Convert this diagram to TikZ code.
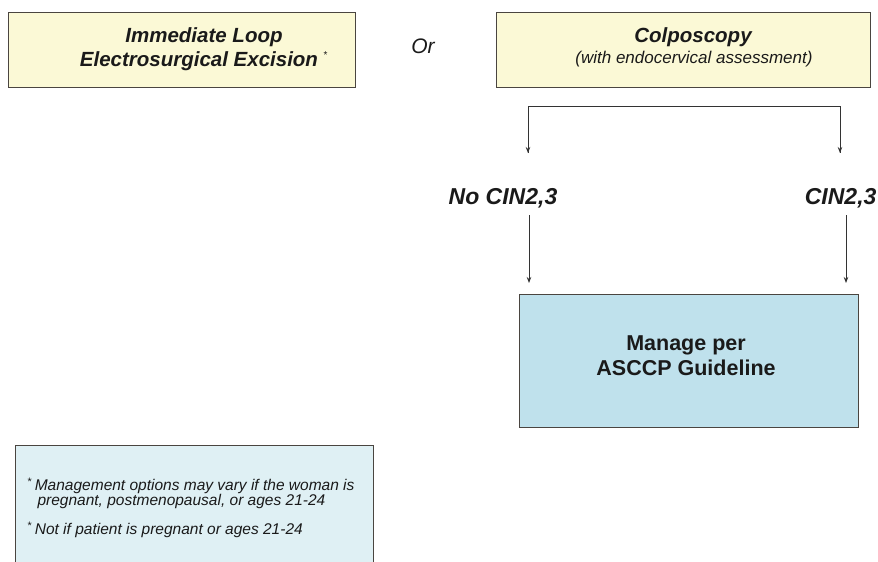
\documentclass[tikz,border=0pt]{standalone}
\usepackage{fontspec}
\setmainfont{Liberation Sans}
\usetikzlibrary{arrows.meta}
\definecolor{yfill}{HTML}{FBF9D6}
\definecolor{bfill}{HTML}{BFE1EC}
\definecolor{nfill}{HTML}{DFF0F4}
\definecolor{edge}{HTML}{4A4540}
\definecolor{txt}{HTML}{1A1A1A}
\tikzset{
  ybox/.style={draw=edge, line width=1.4pt, fill=yfill},
  bbox/.style={draw=edge, line width=1.4pt, fill=bfill},
  nbox/.style={draw=edge, line width=1.4pt, fill=nfill},
  conn/.style={draw=black!80, line width=0.8pt},
  arr/.style={conn, -{Stealth[length=6pt,width=4.5pt]}},
  lbl/.style={font=\fontsize{20.5}{23.5}\selectfont\bfseries\itshape, text=txt, align=center},
  big/.style={font=\fontsize{23}{26}\selectfont\bfseries\itshape, text=txt},
  note/.style={font=\fontsize{15.5}{15}\selectfont\itshape, text=txt, align=left, anchor=north west},
}
\begin{document}
\begin{tikzpicture}[x=1pt,y=-1pt]
\fill[white] (0,0) rectangle (878,562);
\useasboundingbox (0,0) rectangle (878,562);
\begin{scope}
\clip (0,0) rectangle (878,562);
% top boxes
\node[ybox, minimum width=347pt, minimum height=75pt, anchor=north west] (leep) at (8,12) {};
\node[lbl] (leeptxt) at (204,49) {Immediate Loop\\Electrosurgical Excision \textsuperscript{\normalfont\fontsize{10}{10}\selectfont *}};
\node[font=\fontsize{21}{24}\selectfont\itshape, text=txt] (or) at (423,46) {Or};
\node[ybox, minimum width=374pt, minimum height=75pt, anchor=north west] (colpo) at (496,12) {};
\node[lbl] (colpotxt) at (693,37) {Colposcopy};
\node[font=\fontsize{17}{20}\selectfont\itshape, text=txt] (colposub) at (694,59) {(with endocervical assessment)};
% outcome labels
\node[big] (nocin) at (503,198) {No CIN2,3};
\node[big, anchor=east] (cin) at (880,198) {CIN2,3};
% manage box
\node[bbox, minimum width=339pt, minimum height=133pt, anchor=north west] (manage) at (519,294) {};
\node[font=\fontsize{21.5}{25}\selectfont\bfseries, text=txt, align=center] (managetxt) at (686,356) {Manage per\\ASCCP Guideline};
% footnote box
\node[nbox, minimum width=358pt, minimum height=140pt, anchor=north west] (note) at (15,445) {};
\node[note] (n1) at (24,474)
  {\textsuperscript{\normalfont *}\,Management options may vary if the woman is\\\hspace{10pt}pregnant, postmenopausal, or ages 21-24};
\node[note] (n2) at (24,518)
  {\textsuperscript{\normalfont *}\,Not if patient is pregnant or ages 21-24};
% connectors
\coordinate (tl) at (528,106);
\coordinate (tr) at (840,106);
\coordinate (al) at (528,153);
\coordinate (ar) at (840,153);
\draw[conn] (al) -- (tl) -- (tr) -- (ar);
\draw[arr] (tl) -- (al);
\draw[arr] (tr) -- (ar);
\coordinate (bl) at (529,215);
\coordinate (br) at (846,215);
\draw[arr] (bl) -- ([yshift=11pt]manage.north -| bl);
\draw[arr] (br) -- ([yshift=11pt]manage.north -| br);
\end{scope}
\end{tikzpicture}
\end{document}
